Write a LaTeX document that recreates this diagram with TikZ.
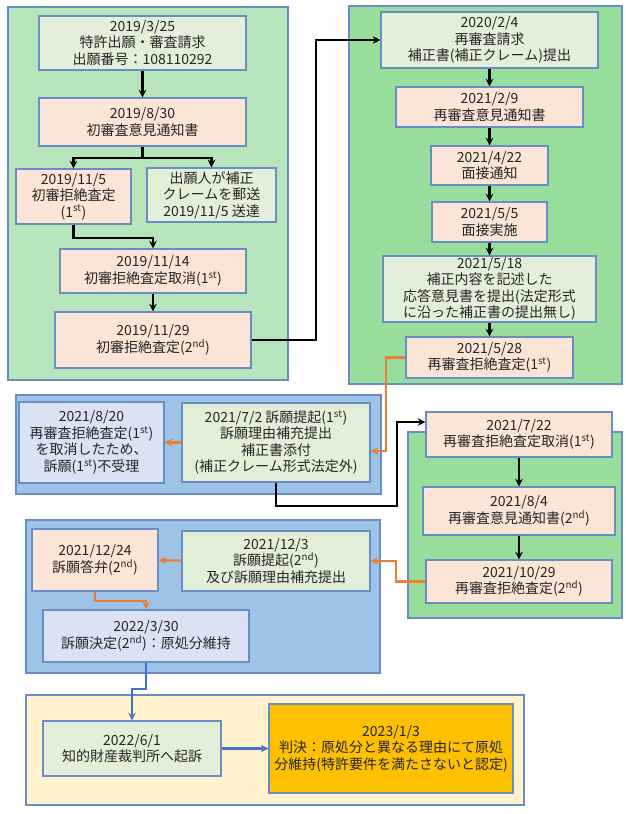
\documentclass[tikz,border=0pt]{standalone}
\usepackage{fontspec}
\setmainfont{Noto Sans CJK JP}
\usepackage{tikz}
\definecolor{PanelGreen}{HTML}{B6E5BC}
\definecolor{PanelGreenB}{HTML}{97DD9B}
\definecolor{PanelBlue}{HTML}{9DC3E6}
\definecolor{PanelYellow}{HTML}{FFF2CC}
\definecolor{BoxGreen}{HTML}{E2F0D9}
\definecolor{BoxPeach}{HTML}{FBE5D6}
\definecolor{BoxBlue}{HTML}{DAE3F3}
\definecolor{BoxGold}{HTML}{FFC000}
\definecolor{Edge}{HTML}{6A8EC4}
\definecolor{LinkOrange}{HTML}{ED7D31}
\definecolor{LinkBlue}{HTML}{4472C4}

\begin{document}
\begin{tikzpicture}[x=1pt,y=-1pt,
  box/.style={draw=Edge,line width=1.4pt,inner sep=0pt,align=center,
    text=black!85,font=\fontsize{14}{16.5}\selectfont},
  panel/.style={draw=Edge,line width=1.4pt},
  link/.style={->,>=stealth,line width=2.3pt},
]
\useasboundingbox (0,0) rectangle (626,814);
% first exam | re-exam
% appeal 1   | re-exam 2
% appeal 2
% court
\filldraw[panel,fill=PanelGreen]  (8,7)    rectangle (288,380);
\filldraw[panel,fill=PanelGreenB] (349,6)  rectangle (622,384);
\filldraw[panel,fill=PanelBlue]   (16,395) rectangle (381,494);
\filldraw[panel,fill=PanelGreenB] (408,432) rectangle (622,618);
\filldraw[panel,fill=PanelBlue]   (26,520) rectangle (380,673);
\filldraw[panel,fill=PanelYellow] (26,695) rectangle (524,805);
%
\newcommand{\eventbox}[7]{
  \node[box,fill=#6,minimum width=#4-#2,minimum height=#5-#3]
    (#1) at ({(#2+#4)/2},{(#3+#5)/2}) {#7};
}
%
\eventbox{filing}{39}{16}{246}{70}{BoxGreen}{2019/3/25\\特許出願・審査請求\\出願番号：108110292}
\eventbox{notice}{39}{98}{246}{146}{BoxPeach}{2019/8/30\\初審査意見通知書}
\eventbox{reject}{16}{169}{131}{224}{BoxPeach}{2019/11/5\\初審拒絶査定\\(1\textsuperscript{st})}
\eventbox{mailed}{147}{168}{276}{222}{BoxGreen}{出願人が補正\\クレームを郵送\\2019/11/5 送達}
\eventbox{cancel}{60}{249}{246}{293}{BoxPeach}{2019/11/14\\初審拒絶査定取消(1\textsuperscript{st})}
\eventbox{rejecttwo}{55}{312}{251}{368}{BoxPeach}{2019/11/29\\初審拒絶査定(2\textsuperscript{nd})}
%
\eventbox{reexam}{381}{12}{598}{68}{BoxGreen}{2020/2/4\\再審査請求\\補正書(補正クレーム)提出}
\eventbox{renotice}{396}{87}{583}{127}{BoxPeach}{2021/2/9\\再審査意見通知書}
\eventbox{callnote}{431}{146}{548}{185}{BoxPeach}{2021/4/22\\面接通知}
\eventbox{interview}{432}{202}{547}{242}{BoxPeach}{2021/5/5\\面接実施}
\eventbox{reply}{383}{256}{596}{322}{BoxGreen}{2021/5/18\\補正内容を記述した\\応答意見書を提出(法定形式\\に沿った補正書の提出無し)}
\eventbox{rereject}{406}{337}{573}{378}{BoxPeach}{2021/5/28\\再審査拒絶査定(1\textsuperscript{st})}
%
\eventbox{dismiss}{19}{402}{164}{483}{BoxBlue}{2021/8/20\\再審査拒絶査定(1\textsuperscript{st})\\を取消したため、\\訴願(1\textsuperscript{st})不受理}
\eventbox{appeal}{182}{403}{370}{482}{BoxGreen}{2021/7/2 訴願提起(1\textsuperscript{st})\\訴願理由補充提出\\補正書添付\\(補正クレーム形式法定外)}
\eventbox{recancel}{426}{412}{612}{457}{BoxPeach}{2021/7/22\\再審査拒絶査定取消(1\textsuperscript{st})}
\eventbox{renoticetwo}{423}{487}{615}{535}{BoxPeach}{2021/8/4\\再審査意見通知書(2\textsuperscript{nd})}
\eventbox{rerejecttwo}{426}{560}{612}{603}{BoxPeach}{2021/10/29\\再審査拒絶査定(2\textsuperscript{nd})}
%
\eventbox{answer}{32}{529}{158}{591}{BoxPeach}{2021/12/24\\訴願答弁(2\textsuperscript{nd})}
\eventbox{appealtwo}{182}{531}{370}{591}{BoxGreen}{2021/12/3\\訴願提起(2\textsuperscript{nd})\\及び訴願理由補充提出}
\eventbox{decision}{43}{610}{249}{662}{BoxBlue}{2022/3/30\\訴願決定(2\textsuperscript{nd})：原処分維持}
\eventbox{suit}{43}{721}{221}{776}{BoxGreen}{2022/6/1\\知的財産裁判所へ起訴}
\eventbox{judgment}{269}{704}{513}{793}{BoxGold}{2023/1/3\\判決：原処分と異なる理由にて原処\\分維持(特許要件を満たさないと認定)}
%
\draw[link] (filing) -- (notice);
\draw[link] (notice.south) -- ++(0,11) coordinate (split) -| (reject.north);
\draw[link] (split) -| (mailed.north);
\draw[link] (reject.south) -- ++(0,13) -| (cancel.north);
\draw[link] (cancel) -- (rejecttwo);
\draw[link] (rejecttwo.east) -- ++(64,0) |- (reexam.west);
\draw[link] (reexam) -- (renotice);
\draw[link] (renotice) -- (callnote);
\draw[link] (callnote) -- (interview);
\draw[link] (interview) -- (reply);
\draw[link] (reply) -- (rereject);
\draw[link,LinkOrange] (rereject.west) -- ++(-19,0) |- ([yshift=-8.5pt]appeal.east);
\draw[link,LinkOrange] (appeal) -- (dismiss);
\draw[link] (appeal.south) -- ++(0,23) -| (397,480) |- ([yshift=12.5pt]recancel.west);
\draw[link] (recancel) -- (renoticetwo);
\draw[link] (renoticetwo) -- (rerejecttwo);
\draw[link,LinkOrange] (rerejecttwo.west) -- ++(-29,0) |- (appealtwo.east);
\draw[link,LinkOrange] (appealtwo) -- (answer);
\draw[link,LinkOrange] (answer.south) -- ++(0,9) -| (decision.north);
\draw[link,LinkBlue] (decision.south) -- ++(0,26) -| (suit.north);
\draw[link,LinkBlue] (suit) -- (judgment);
\end{tikzpicture}
\end{document}
